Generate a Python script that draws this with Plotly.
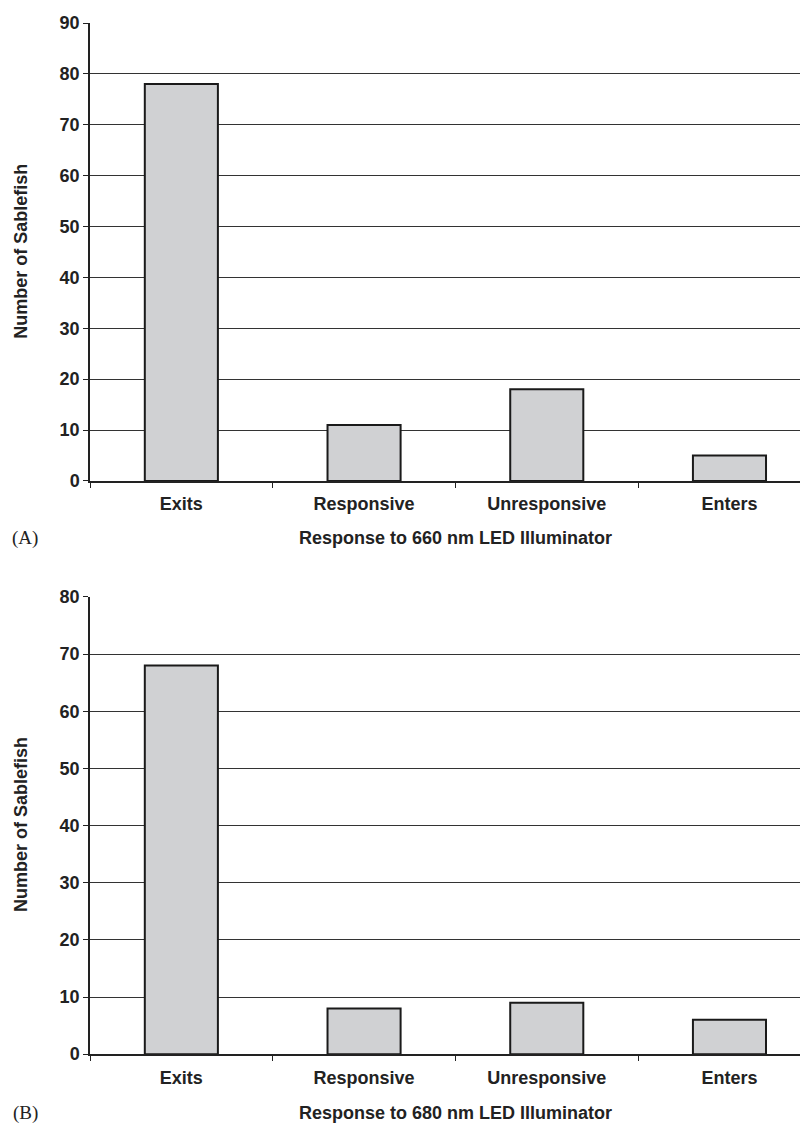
import plotly.graph_objects as go

categories = ["Exits", "Responsive", "Unresponsive", "Enters"]
counts_660 = [78, 11, 18, 5]
counts_680 = [68, 8, 9, 6]
y_ticks_660 = [0, 10, 20, 30, 40, 50, 60, 70, 80, 90]
y_ticks_680 = [0, 10, 20, 30, 40, 50, 60, 70, 80]
title_660 = "Response to 660 nm LED Illuminator"
title_680 = "Response to 680 nm LED Illuminator"
y_title = "Number of Sablefish"
panel_labels = ["(A)", "(B)"]

W, H = 800, 1132
ML = 90
TXT = "#222222"
FONT = "Liberation Sans, Arial, sans-serif"

def py(pix):
    return 1 - pix / H

def px(pix):
    return (pix - ML) / (W - ML)

fig = go.Figure()
bar_style = dict(marker=dict(color="#d0d1d3", line=dict(color="#1a1a1a", width=2)),
                 width=0.4, showlegend=False, hoverinfo="skip")
fig.add_trace(go.Bar(x=categories, y=counts_660, xaxis="x", yaxis="y", **bar_style))
fig.add_trace(go.Bar(x=categories, y=counts_680, xaxis="x2", yaxis="y2", **bar_style))

xcommon = dict(type="category", range=[-0.5, 3.386], showgrid=False, showline=True,
               linecolor="#222222", linewidth=1.5, ticks="outside", ticklen=5,
               tickcolor="#222222", tickwidth=1, tickson="boundaries",
               ticklabelstandoff=6,
               tickfont=dict(family=FONT, size=18, color=TXT, weight="bold"),
               zeroline=False, fixedrange=True)
ycommon = dict(showgrid=True, gridcolor="#333333", gridwidth=1, showline=True,
               linecolor="#222222", linewidth=1.5, ticks="outside", ticklen=5,
               tickcolor="#222222", tickwidth=1, zeroline=False,
               tickfont=dict(family=FONT, size=18, color=TXT, weight="bold"),
               fixedrange=True)

fig.update_layout(
    width=W, height=H,
    margin=dict(l=ML, r=0, t=0, b=0),
    paper_bgcolor="white", plot_bgcolor="white",
    bargap=0.6,
    xaxis=dict(anchor="y", domain=[0, 1], **xcommon),
    yaxis=dict(anchor="x", domain=[py(480), py(14)], range=[0, 90.05],
               tickvals=y_ticks_660, **ycommon),
    xaxis2=dict(anchor="y2", domain=[0, 1], **xcommon),
    yaxis2=dict(anchor="x2", domain=[py(1063), py(597.7)], range=[0, 80.05],
                tickvals=y_ticks_680, **ycommon),
)

ann = []
for title, ypix, yt_center, lab in [(title_660, 538, 247, panel_labels[0]),
                                    (title_680, 1123, 830, panel_labels[1])]:
    ann.append(dict(text=title, xref="x", x=1.5, yref="paper", y=py(ypix),
                    xanchor="center", yanchor="middle", showarrow=False,
                    font=dict(family=FONT, size=18, color=TXT, weight="bold")))
    ann.append(dict(text=y_title, xref="paper", x=px(21), yref="paper", y=py(yt_center),
                    xanchor="center", yanchor="middle", textangle=-90, showarrow=False,
                    font=dict(family=FONT, size=18, color=TXT, weight="bold")))
    ann.append(dict(text=lab, xref="paper", x=px(25), yref="paper", y=py(ypix),
                    xanchor="center", yanchor="middle", showarrow=False,
                    font=dict(family="Liberation Serif, Times New Roman, serif", size=19, color=TXT)))
fig.update_layout(annotations=ann)

fig.write_html("out.html")
